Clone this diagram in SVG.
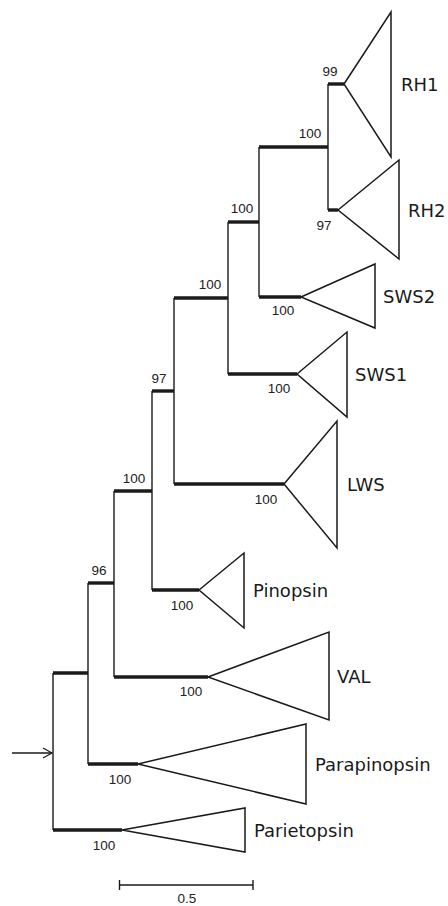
<svg xmlns="http://www.w3.org/2000/svg" width="448" height="906" viewBox="0 0 448 906">
  <style>
    .v { stroke: #1a1a1a; stroke-width: 1.4; fill: none; }
    .h { stroke: #1a1a1a; stroke-width: 3.4; fill: none; }
    .tri { stroke: #1a1a1a; stroke-width: 1.5; fill: #fff; stroke-linejoin: miter; }
    .bs { font-family: "Liberation Sans", Arial, sans-serif; font-size: 13.5px; fill: #222; text-anchor: middle; }
    .clade { font-family: "DejaVu Sans", Verdana, sans-serif; font-size: 18px; fill: #1a1a1a; }
  </style>
  <defs>
    <marker id="open-arrow" markerWidth="12" markerHeight="12" refX="10" refY="6" orient="auto" markerUnits="userSpaceOnUse">
      <path d="M1,1 L10,6 L1,11" fill="none" stroke="#1a1a1a" stroke-width="1.2"/>
    </marker>
  </defs>

  <!-- tree branches -->
  <g id="branches">
    <!-- vertical connectors -->
    <line class="v" x1="328" y1="84" x2="328" y2="210"/>
    <line class="v" x1="259" y1="147" x2="259" y2="297"/>
    <line class="v" x1="228" y1="222" x2="228" y2="374"/>
    <line class="v" x1="174" y1="298" x2="174" y2="484"/>
    <line class="v" x1="152" y1="391" x2="152" y2="590"/>
    <line class="v" x1="114" y1="491" x2="114" y2="677"/>
    <line class="v" x1="88" y1="583" x2="88" y2="764"/>
    <line class="v" x1="53" y1="673" x2="53" y2="830"/>
    <!-- horizontal branches -->
    <line class="h" x1="328" y1="84" x2="344" y2="84"/>
    <line class="h" x1="328" y1="210" x2="338" y2="210"/>
    <line class="h" x1="259" y1="147" x2="328" y2="147"/>
    <line class="h" x1="228" y1="222" x2="259" y2="222"/>
    <line class="h" x1="259" y1="297" x2="301" y2="297"/>
    <line class="h" x1="174" y1="298" x2="228" y2="298"/>
    <line class="h" x1="228" y1="374" x2="297" y2="374"/>
    <line class="h" x1="152" y1="391" x2="174" y2="391"/>
    <line class="h" x1="174" y1="484" x2="284" y2="484"/>
    <line class="h" x1="114" y1="491" x2="152" y2="491"/>
    <line class="h" x1="152" y1="590" x2="199" y2="590"/>
    <line class="h" x1="88" y1="583" x2="114" y2="583"/>
    <line class="h" x1="114" y1="677" x2="208" y2="677"/>
    <line class="h" x1="53" y1="673" x2="88" y2="673"/>
    <line class="h" x1="88" y1="764" x2="138" y2="764"/>
    <line class="h" x1="53" y1="830" x2="122" y2="830"/>
    <!-- root arrow -->
    <line class="v" x1="12" y1="753" x2="52" y2="753" marker-end="url(#open-arrow)"/>
  </g>

  <!-- collapsed clades -->
  <g id="RH1">
    <polygon class="tri" points="344,84 391,12 391,157"/>
    <text class="clade" x="401" y="91">RH1</text>
  </g>
  <g id="RH2">
    <polygon class="tri" points="338,210 399,160 399,259"/>
    <text class="clade" x="408" y="217">RH2</text>
  </g>
  <g id="SWS2">
    <polygon class="tri" points="301,297 375,264 375,328"/>
    <text class="clade" x="383" y="303">SWS2</text>
  </g>
  <g id="SWS1">
    <polygon class="tri" points="297,374 347,332 347,417"/>
    <text class="clade" x="355" y="381">SWS1</text>
  </g>
  <g id="LWS">
    <polygon class="tri" points="284,484 337,421 337,548"/>
    <text class="clade" x="347" y="491">LWS</text>
  </g>
  <g id="Pinopsin">
    <polygon class="tri" points="199,590 244,553 244,628"/>
    <text class="clade" x="253" y="597">Pinopsin</text>
  </g>
  <g id="VAL">
    <polygon class="tri" points="208,677 329,632 329,720"/>
    <text class="clade" x="337" y="683">VAL</text>
  </g>
  <g id="Parapinopsin">
    <polygon class="tri" points="138,764 306,724 306,804"/>
    <text class="clade" x="315" y="771">Parapinopsin</text>
  </g>
  <g id="Parietopsin">
    <polygon class="tri" points="122,830 245,808 245,852"/>
    <text class="clade" x="254" y="837">Parietopsin</text>
  </g>

  <!-- bootstrap support values -->
  <g id="support">
    <text class="bs" x="330" y="76">99</text>
    <text class="bs" x="310" y="138">100</text>
    <text class="bs" x="324" y="230">97</text>
    <text class="bs" x="242" y="213">100</text>
    <text class="bs" x="283" y="315">100</text>
    <text class="bs" x="210" y="289">100</text>
    <text class="bs" x="279" y="393">100</text>
    <text class="bs" x="159" y="383">97</text>
    <text class="bs" x="266" y="504">100</text>
    <text class="bs" x="134" y="483">100</text>
    <text class="bs" x="182" y="610">100</text>
    <text class="bs" x="99" y="575">96</text>
    <text class="bs" x="191" y="696">100</text>
    <text class="bs" x="120" y="784">100</text>
    <text class="bs" x="104" y="850">100</text>
  </g>

  <!-- scale bar -->
  <g id="scale">
    <line class="v" x1="119" y1="885" x2="253" y2="885"/>
    <line class="v" x1="119.5" y1="880" x2="119.5" y2="890"/>
    <line class="v" x1="253" y1="880" x2="253" y2="890"/>
    <text class="bs" x="187" y="903">0.5</text>
  </g>
</svg>
